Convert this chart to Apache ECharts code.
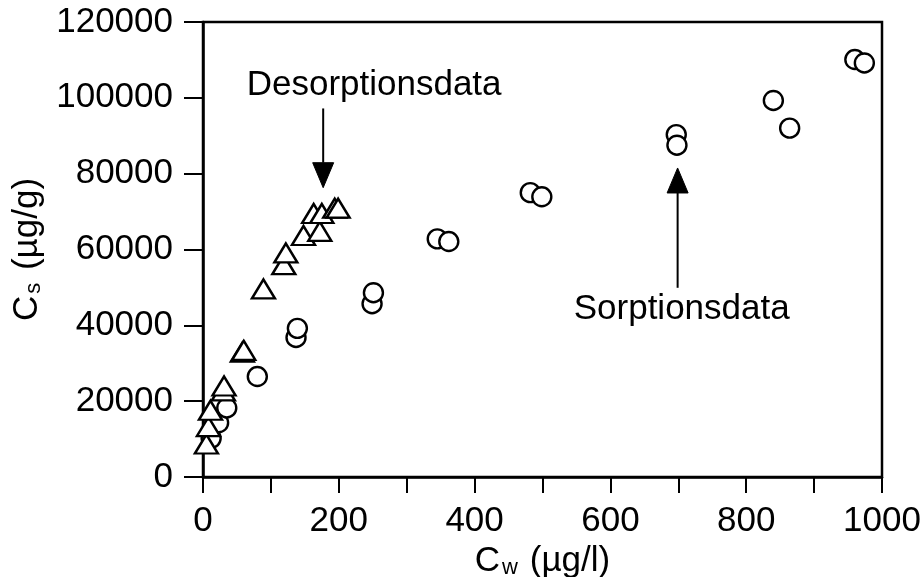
<!DOCTYPE html>
<html>
<head>
<meta charset="utf-8">
<script src="https://cdn.jsdelivr.net/npm/echarts@6/dist/echarts.min.js"></script>
<style>
  html, body { margin: 0; padding: 0; background: #fff; }
  #chart { width: 922px; height: 577px; }
</style>
</head>
<body>
<div id="chart"></div>
<script>
// Sorption isotherm: solid-phase vs. aqueous concentration
const sorptionCw = [12, 23, 35, 80, 137, 139, 249, 251, 345, 362, 482, 499, 697, 698, 840, 864, 960, 974];
const sorptionCs = [10200, 14300, 18200, 26500, 36800, 39200, 45700, 48600, 62800, 62100, 75000, 73900, 90300, 87500, 99300, 92000, 110100, 109200];

// Desorption branch
const desorptionCw = [5, 8, 11, 30, 31, 58, 60, 89, 119, 122, 148, 172, 163, 175, 194, 199];
const desorptionCs = [8700, 13300, 17600, 22700, 24000, 32900, 33400, 49600, 56000, 59100, 63700, 64800, 69500, 69500, 70900, 70900];

// Axis ticks
const xTickValues = [0, 100, 200, 300, 400, 500, 600, 700, 800, 900, 1000];
const xTickLabels = [0, 200, 400, 600, 800, 1000];
const yTickLabels = [0, 20000, 40000, 60000, 80000, 100000, 120000];

// Annotation texts and arrows (data units)
const noteTexts = ['Desorptionsdata', 'Sorptionsdata'];
const noteTextAt = [[252, 103300], [705, 44300]];
const noteArrowFrom = [[177, 97200], [699, 49900]];
const noteArrowTo = [[177, 76300], [699, 81500]];

const FONT = "'Liberation Sans', Arial, Helvetica, sans-serif";
const INK = '#000';

const chart = echarts.init(document.getElementById('chart'), null, { renderer: 'canvas' });

const pairs = (xs, ys) => xs.map((x, i) => [x, ys[i]]);

chart.setOption({
  animation: false,
  backgroundColor: '#fff',
  textStyle: { fontFamily: FONT, color: INK },
  grid: {
    left: 203, right: 40, top: 22, bottom: 100,
    outerBoundsMode: 'none',
    containLabel: false,
    show: true, borderColor: INK, borderWidth: 2.5, backgroundColor: 'transparent'
  },
  xAxis: {
    type: 'value',
    min: xTickValues[0],
    max: xTickValues[xTickValues.length - 1],
    interval: xTickValues[1] - xTickValues[0],
    name: '{c|C}{s|w}{c| (µg/l)}',
    nameLocation: 'middle',
    nameGap: 65,
    nameTextStyle: {
      rich: {
        c: { fontSize: 35, fontFamily: FONT, color: INK },
        s: { fontSize: 22, fontFamily: FONT, color: INK, verticalAlign: 'bottom', padding: [0, 2, 0, 2] }
      }
    },
    axisLine: { show: true, onZero: false, lineStyle: { color: INK, width: 2.5 } },
    axisTick: { show: true, inside: false, length: 16, lineStyle: { color: INK, width: 2 } },
    axisLabel: {
      show: true, margin: 27, fontSize: 35, fontFamily: FONT, color: INK,
      formatter: v => (xTickLabels.indexOf(v) >= 0 ? String(v) : '')
    },
    splitLine: { show: false }
  },
  yAxis: {
    type: 'value',
    min: yTickLabels[0],
    max: yTickLabels[yTickLabels.length - 1],
    interval: yTickLabels[1] - yTickLabels[0],
    name: '{c|C}{s|s}{c| (µg/g)}',
    nameLocation: 'middle',
    nameRotate: 90,
    nameGap: 156,
    nameTextStyle: {
      rich: {
        c: { fontSize: 35, fontFamily: FONT, color: INK },
        s: { fontSize: 22, fontFamily: FONT, color: INK, verticalAlign: 'bottom', padding: [0, 3, 0, 2] }
      }
    },
    axisLine: { show: true, onZero: false, lineStyle: { color: INK, width: 2.5 } },
    axisTick: { show: true, inside: false, length: 19, lineStyle: { color: INK, width: 2 } },
    axisLabel: {
      show: true, margin: 30, fontSize: 35, fontFamily: FONT, color: INK,
      formatter: v => String(v)
    },
    splitLine: { show: false }
  },
  series: [
    {
      name: 'Sorption',
      type: 'scatter',
      symbol: 'circle',
      symbolSize: 19,
      itemStyle: { color: '#fff', borderColor: INK, borderWidth: 2.4, opacity: 1 },
      data: pairs(sorptionCw, sorptionCs),
      z: 2
    },
    {
      name: 'Desorption',
      type: 'scatter',
      symbol: 'triangle',
      symbolSize: [23, 19],
      itemStyle: { color: '#fff', borderColor: INK, borderWidth: 2.4, opacity: 1 },
      data: pairs(desorptionCw, desorptionCs),
      z: 3
    }
  ]
});

// Annotation labels and arrows, placed through the grid's coordinate system
function drawNotes() {
  const elements = [];
  const headLen = 25, headHalf = 10.5;
  noteTexts.forEach((txt, i) => {
    const tp = chart.convertToPixel({ gridIndex: 0 }, noteTextAt[i]);
    elements.push({
      type: 'text', x: tp[0], y: tp[1], z: 10,
      style: { text: txt, fontSize: 35, fontFamily: FONT, fill: INK, align: 'center', verticalAlign: 'middle' }
    });
    const a = chart.convertToPixel({ gridIndex: 0 }, noteArrowFrom[i]);
    const b = chart.convertToPixel({ gridIndex: 0 }, noteArrowTo[i]);
    const dx = b[0] - a[0], dy = b[1] - a[1];
    const len = Math.sqrt(dx * dx + dy * dy);
    const ux = dx / len, uy = dy / len;
    const bx = b[0] - ux * headLen, by = b[1] - uy * headLen;
    elements.push({
      type: 'line', z: 10,
      shape: { x1: a[0], y1: a[1], x2: bx, y2: by },
      style: { stroke: INK, lineWidth: 2 }
    });
    elements.push({
      type: 'polygon', z: 10,
      shape: { points: [[b[0], b[1]], [bx - uy * headHalf, by + ux * headHalf], [bx + uy * headHalf, by - ux * headHalf]] },
      style: { fill: INK, stroke: INK, lineWidth: 1 }
    });
  });
  chart.setOption({ graphic: { elements } });
}
drawNotes();
</script>
</body>
</html>
